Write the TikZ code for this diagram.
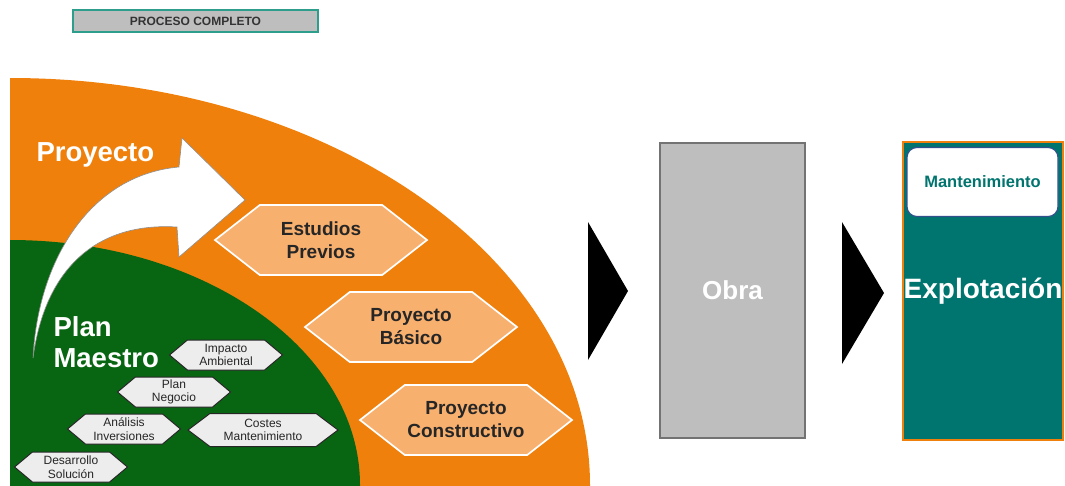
\documentclass[tikz,border=0pt]{standalone}
\usepackage{fontspec}
\setmainfont{Liberation Sans}
\usetikzlibrary{positioning,shapes.symbols}
\definecolor{proyorange}{RGB}{239,128,12}
\definecolor{plangreen}{RGB}{8,102,18}
\definecolor{hexorange}{RGB}{248,176,110}
\definecolor{hexgray}{RGB}{237,237,237}
\definecolor{explteal}{RGB}{0,116,110}
\definecolor{obragray}{RGB}{190,190,190}
\definecolor{titleteal}{RGB}{46,158,140}
\definecolor{mantblue}{RGB}{52,80,140}

\begin{document}
\begin{tikzpicture}[x=1pt,y=-1pt,
	hexbig/.style={signal,signal to=east and west,signal pointer angle=76,minimum width=212pt,minimum height=70pt,inner sep=0pt,fill=hexorange,draw=white,line width=0.6mm,align=center,font=\fontsize{19}{23}\selectfont\bfseries,text=black!85},
	hexsmall/.style={signal,signal to=east and west,signal pointer angle=80,minimum width=113pt,minimum height=30pt,inner sep=0pt,fill=hexgray,draw=black!85,line width=0.35mm,align=center,font=\fontsize{12}{13.5}\selectfont,text=black!85},
	bigtext/.style={text=white,font=\fontsize{27.5}{31}\selectfont\bfseries}]
	\useasboundingbox (0,0) rectangle (1065,485);
	
	\node[rectangle,draw=titleteal,fill=obragray,line width=0.4mm,minimum width=245pt,minimum height=22pt,font=\fontsize{12}{14}\selectfont\bfseries,text=black!80] (title) at(195.5,21) {PROCESO COMPLETO};
	
	\begin{scope}
		\clip (10,0) rectangle (1065,485);
		\fill[proyorange] (10,485) ellipse [x radius=580,y radius=407];
		\fill[plangreen] (10,485) ellipse [x radius=350,y radius=245];
	\end{scope}
	
	\draw[draw=black!45,fill=white,line width=0.2mm] (33,358) .. controls (38,260) and (90,175) .. (179,167) -- (182,138) -- (245,200) -- (179,257) -- (177,227) .. controls (97,222) and (45,268) .. (33,358) -- cycle;
	
	\node[bigtext,anchor=west] (proyecto) at(33,155) {Proyecto};
	\node[bigtext,anchor=west,align=left] (planmaestro) at(50,342) {Plan\\Maestro};
	
	\node[hexbig] (estudios) at(321,240) {Estudios\\Previos};
	\node[hexbig] (basico) at(411,327) {Proyecto\\Básico};
	\node[hexbig] (constructivo) at(466,420) {Proyecto\\Constructivo};
	
	\node[hexsmall] (impacto) at(226,355) {Impacto\\Ambiental};
	\node[hexsmall] (negocio) at(174,392) {Plan\\Negocio};
	\node[hexsmall] (analisis) at(124,429) {Análisis\\Inversiones};
	\node[hexsmall,minimum width=150pt,minimum height=33pt,signal pointer angle=74] (costes) at(263,430) {Costes\\Mantenimiento};
	\node[hexsmall] (desarrollo) at(71,467) {Desarrollo\\Solución};
	
	\fill[black] (588,222) -- (628,291) -- (588,360) -- cycle;
	
	\node[rectangle,draw=black!55,fill=obragray,line width=0.4mm,minimum width=145pt,minimum height=295pt,text=white,font=\fontsize{26}{30}\selectfont\bfseries] (obra) at(732.5,290.5) {Obra};
	
	\fill[black] (842,222) -- (884,293) -- (842,364) -- cycle;
	
	\node[rectangle,draw=proyorange,fill=explteal,line width=0.5mm,minimum width=160pt,minimum height=298pt,inner sep=0pt,bigtext,font=\fontsize{28}{32}\selectfont\bfseries] (explotacion) at(983,291) {Explotación};
	\node[rectangle,rounded corners=10pt,draw=mantblue,fill=white,line width=0.4mm,minimum width=151pt,minimum height=69pt,text=explteal,font=\fontsize{16.5}{19}\selectfont\bfseries] (mant) at(982.5,182) {Mantenimiento};
	
\end{tikzpicture}
\end{document}
